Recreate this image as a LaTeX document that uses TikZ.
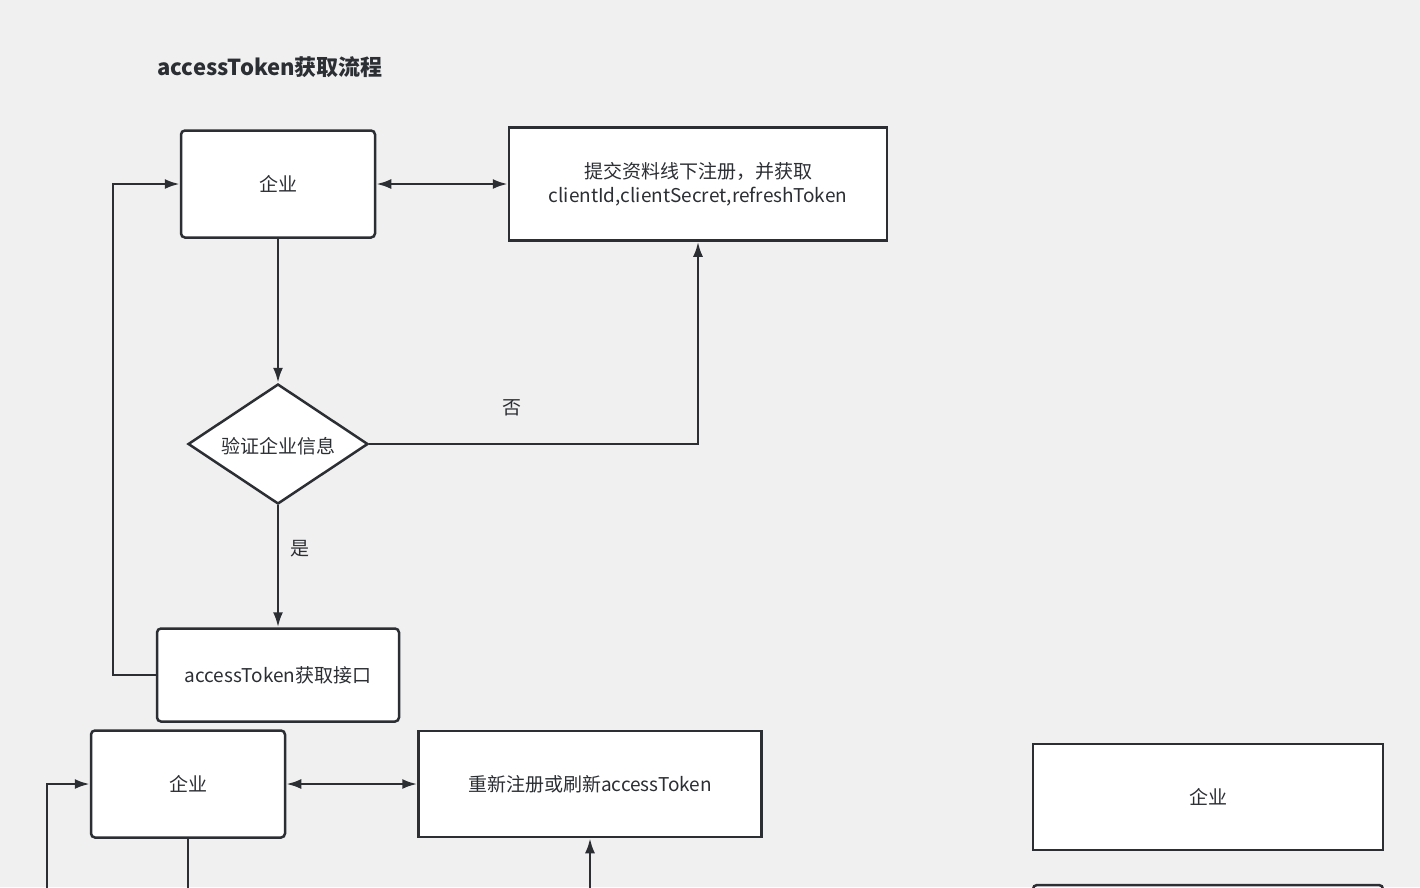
\documentclass[tikz,border=0pt]{standalone}
\usepackage{fontspec}
\setmainfont{Noto Sans CJK SC}
\usetikzlibrary{arrows.meta,shapes.geometric}
\definecolor{bg}{HTML}{F0F0F0}
\definecolor{ink}{HTML}{2B2E33}
\begin{document}
\begin{tikzpicture}[x=1pt,y=-1pt,
  box/.style={draw=ink,line width=2.5pt,fill=white,inner sep=0pt,font=\fontsize{19}{24}\selectfont,text=ink,align=center},
  rbox/.style={box,rounded corners=4pt},
  ln/.style={draw=ink,line width=2.5pt},
  arr/.style={ln,-{Latex[length=15pt,width=10pt]}},
  darr/.style={ln,{Latex[length=15pt,width=10pt]}-{Latex[length=15pt,width=10pt]}},
  lbl/.style={font=\fontsize{19}{24}\selectfont,text=ink}]
\useasboundingbox (0,0) rectangle (1420,887);
\clip (0,0) rectangle (1420,887);
\fill[bg] (0,0) rectangle (1420,887);
\node[anchor=west,font=\bfseries\fontsize{22}{26}\selectfont,text=ink] (title) at (154,67) {accessToken获取流程};
\node[rbox,minimum width=194pt,minimum height=107pt] (b1) at (278,184) {企业};
\node[box,minimum width=378pt,minimum height=113pt] (b2) at (698,184) {提交资料线下注册，并获取\\clientId,clientSecret,refreshToken};
\node[diamond,draw=ink,line width=2.5pt,fill=white,aspect=1.5,minimum width=180pt,minimum height=120pt,inner sep=0pt,font=\fontsize{19}{24}\selectfont,text=ink] (d) at (278,444) {};
\node[lbl] at (278,446) {验证企业信息};
\node[rbox,minimum width=242pt,minimum height=93pt] (b3) at (278,675) {accessToken获取接口};
\node[rbox,minimum width=194pt,minimum height=107pt] (b4) at (188,784) {企业};
\node[box,minimum width=343pt,minimum height=106pt] (b5) at (590,784) {重新注册或刷新accessToken};
\node[box,minimum width=350pt,minimum height=106pt] (b6) at (1208,797) {企业};
\node[rbox,minimum width=350pt,minimum height=60pt] (b7) at (1208,915) {};
\draw[darr] (b1.east) -- (b2.west);
\draw[arr] (b1.south) -- (d.north);
\draw[arr] (d.east) -- (698,444) -- (b2.south);
\node[lbl] at (512,408) {否};
\draw[arr] (d.south) -- (b3.north);
\node[lbl] at (300,549) {是};
\draw[arr] (b3.west) -- (113,675) -- (113,184) -- (b1.west);
\draw[darr] (b4.east) -- (b5.west);
\coordinate (c1) at (47,900);
\coordinate (c2) at (188,900);
\coordinate (c3) at (590,900);
\draw[arr] (c1) -- (47,784) -- (b4.west);
\draw[ln] (b4.south) -- (c2);
\draw[arr] (c3) -- (b5.south);
\end{tikzpicture}
\end{document}
